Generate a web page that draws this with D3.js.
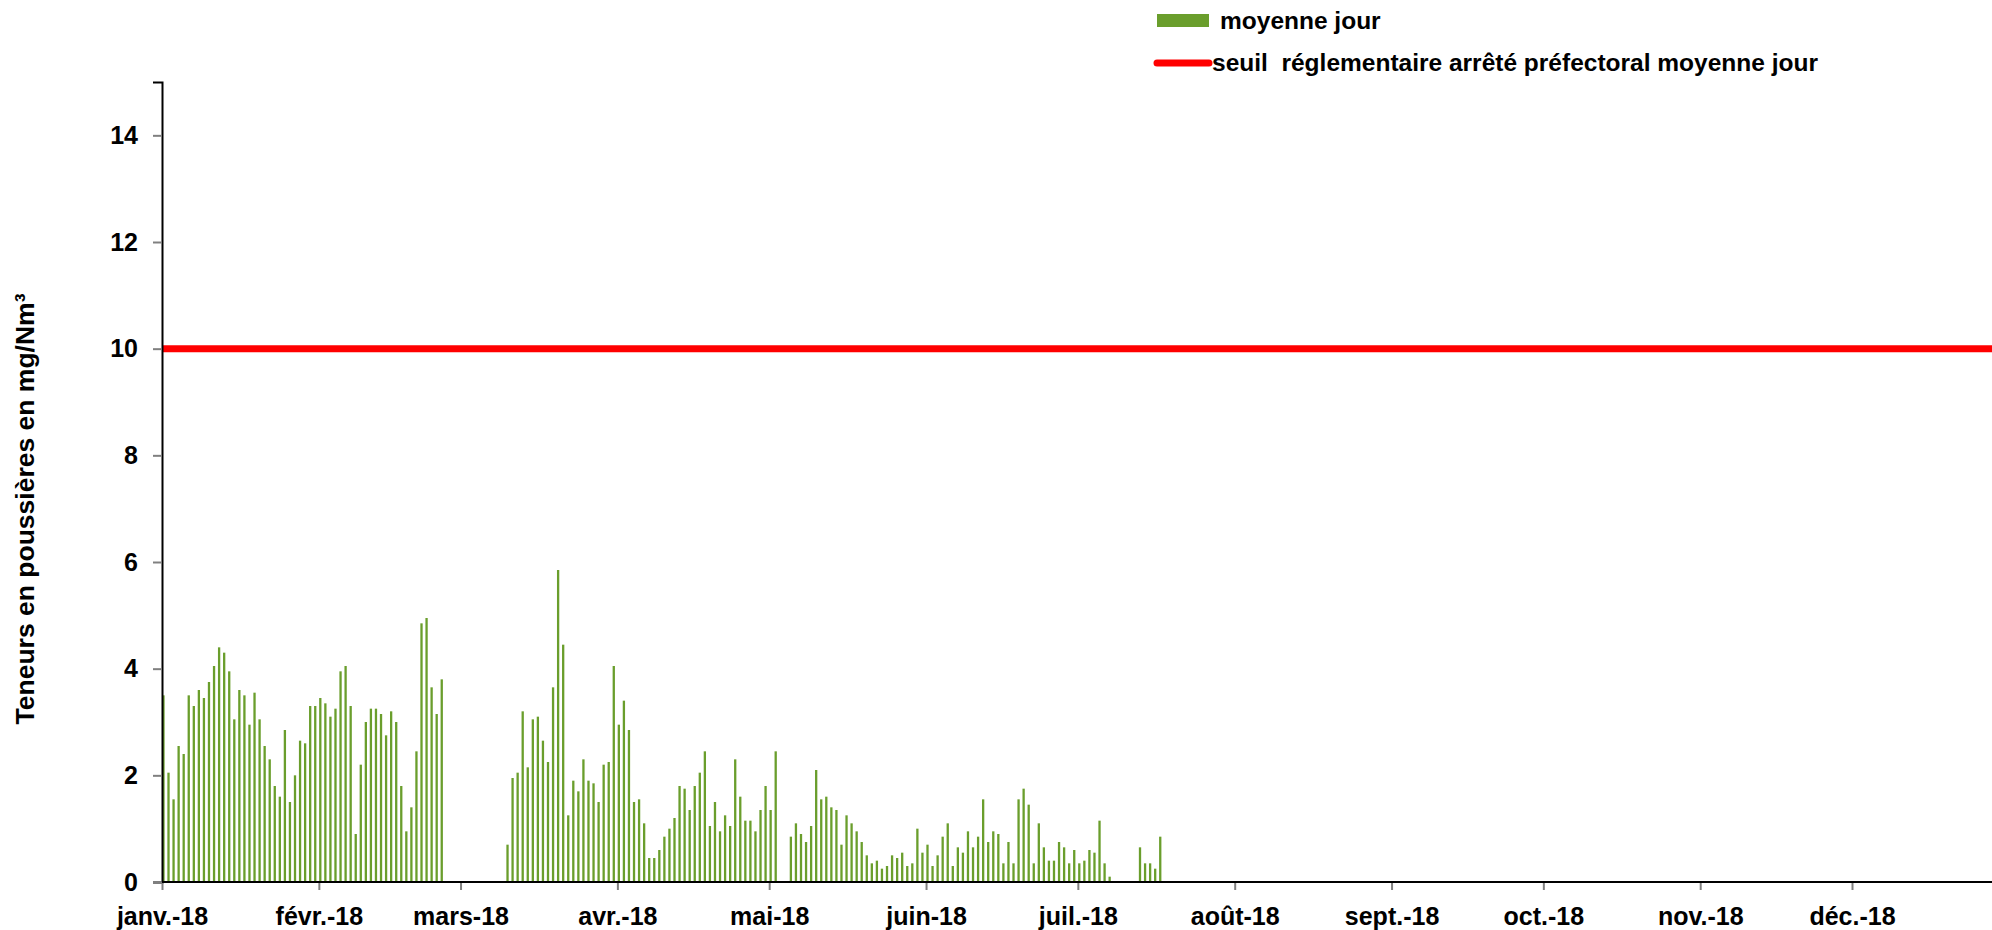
<!DOCTYPE html>
<html><head><meta charset="utf-8">
<script src="https://cdn.jsdelivr.net/npm/d3@7"></script>
<style>
body{margin:0;background:#fff}
svg{display:block}
text{font-family:"Liberation Sans",Arial,sans-serif;font-weight:bold;fill:#000}
</style>
</head><body>
<svg id="chart" width="1992" height="930"></svg>
<script>
// ---- data ----
const monthLabels = ["janv.-18","févr.-18","mars-18","avr.-18","mai-18","juin-18","juil.-18","août-18","sept.-18","oct.-18","nov.-18","déc.-18"];
const yTicks = [0,2,4,6,8,10,12,14];
const threshold = 10;

const seg1Start = "2018-01-01";
const seg1Values = [3.5,2.05,1.55,2.55,2.4,3.5,3.3,3.6,3.45,3.75,4.05,4.4,4.3,3.95,3.05,3.6,3.5,2.95,3.55,3.05,2.55,2.3,1.8,1.6,2.85,1.5,2.0,2.65,2.6,3.3,3.3,3.45,3.35,3.1,3.25,3.95,4.05,3.3,0.9,2.2,3.0,3.25,3.25,3.15,2.75,3.2,3.0,1.8,0.95,1.4,2.45,4.85,4.95,3.65,3.15,3.8];

const seg2Start = "2018-03-10";
const seg2Values = [0.7,1.95,2.05,3.2,2.15,3.05,3.1,2.65,2.25,3.65,5.85,4.45,1.25,1.9,1.7,2.3,1.9,1.85,1.5,2.2,2.25,4.05,2.95,3.4,2.85,1.5,1.55,1.1,0.45,0.45,0.6,0.85,1.0,1.2,1.8,1.75,1.35,1.8,2.05,2.45,1.05,1.5,0.95,1.25,1.05,2.3,1.6,1.15,1.15,0.95,1.35,1.8,1.35,2.45];

const seg3Start = "2018-05-05";
const seg3Values = [0.85,1.1,0.9,0.75,1.05,2.1,1.55,1.6,1.4,1.35,0.7,1.25,1.1,0.95,0.75,0.5,0.35,0.4,0.25,0.3,0.5,0.45,0.55,0.3,0.35,1.0,0.55,0.7,0.3,0.5,0.85,1.1,0.3,0.65,0.55,0.95,0.65,0.85,1.55,0.75,0.95,0.9,0.35,0.75,0.35,1.55,1.75,1.45,0.35,1.1,0.65,0.4,0.4,0.75,0.65,0.35,0.6,0.35,0.4,0.6,0.55,1.15,0.35,0.1];

const seg4Start = "2018-07-13";
const seg4Values = [0.65,0.35,0.35,0.25,0.85];

// ---- build ----
const parse = d3.timeParse("%Y-%m-%d");
function expand(start, vals){
  const s = parse(start);
  return vals.map((v,i)=>({date:d3.timeDay.offset(s,i), value:v}));
}
const daily = [].concat(expand(seg1Start,seg1Values),expand(seg2Start,seg2Values),expand(seg3Start,seg3Values),expand(seg4Start,seg4Values));

const W = 1992, H = 930;
const svg = d3.select("#chart");
const x = d3.scaleTime().domain([new Date(2018,0,1), new Date(2018,11,1)]).range([162,1852]);
const y = d3.scaleLinear().domain([0,15]).range([882,82]);
const FS = 25;
const LFS = 24.5;
const FONT = "'Liberation Sans',Arial,sans-serif";

// bars
svg.append("g").selectAll("rect").data(daily).join("rect")
  .attr("x", d=>x(d.date)+0.3)
  .attr("width", 2.3)
  .attr("y", d=>y(d.value))
  .attr("height", d=>y(0)-y(d.value))
  .attr("fill", "#6a9e2c");

// threshold line
svg.append("line")
  .attr("x1", x(new Date(2018,0,1))).attr("x2", W)
  .attr("y1", y(threshold)).attr("y2", y(threshold))
  .attr("stroke", "#ff0000").attr("stroke-width", 7);

// y axis
const yAxis = svg.append("g").attr("transform","translate(162,0)")
  .call(d3.axisLeft(y).tickValues(yTicks).tickSize(9).tickPadding(15).tickFormat(d3.format("d")));
yAxis.select(".domain").attr("stroke","#000").attr("stroke-width",2);
yAxis.selectAll(".tick line").attr("stroke","#808080").attr("stroke-width",2);
yAxis.selectAll(".tick text").style("font-size",FS+"px").style("font-family",FONT).style("font-weight","bold").attr("fill","#000");

// x axis
const months = d3.range(12).map(m=>new Date(2018,m,1));
const xAxis = svg.append("g").attr("transform","translate(0,"+y(0)+")")
  .call(d3.axisBottom(x).tickValues(months).tickSize(8).tickPadding(17).tickFormat((d,i)=>monthLabels[i]));
xAxis.select(".domain").remove();
xAxis.append("line").attr("x1",162).attr("x2",W).attr("y1",0).attr("y2",0).attr("stroke","#000").attr("stroke-width",2);
xAxis.selectAll(".tick line").attr("stroke","#808080").attr("stroke-width",2);
xAxis.selectAll(".tick text").style("font-size",FS+"px").style("font-family",FONT).style("font-weight","bold").attr("fill","#000");

// y axis title
svg.append("text")
  .attr("transform","translate(34,509) rotate(-90)")
  .attr("text-anchor","middle")
  .style("font-size","26.5px")
  .text("Teneurs en poussières en mg/Nm³");

// legend
const lg = svg.append("g");
lg.append("rect").attr("x",1157).attr("y",14).attr("width",52).attr("height",13).attr("fill","#6a9e2c");
lg.append("text").attr("x",1220).attr("y",29).style("font-size",LFS+"px").text("moyenne jour");
lg.append("line").attr("x1",1157).attr("x2",1209).attr("y1",63).attr("y2",63)
  .attr("stroke","#ff0000").attr("stroke-width",7).attr("stroke-linecap","round");
lg.append("text").attr("x",1212).attr("y",71).style("font-size",LFS+"px").attr("xml:space","preserve").text("seuil  réglementaire arrêté préfectoral moyenne jour");
</script>
</body></html>
